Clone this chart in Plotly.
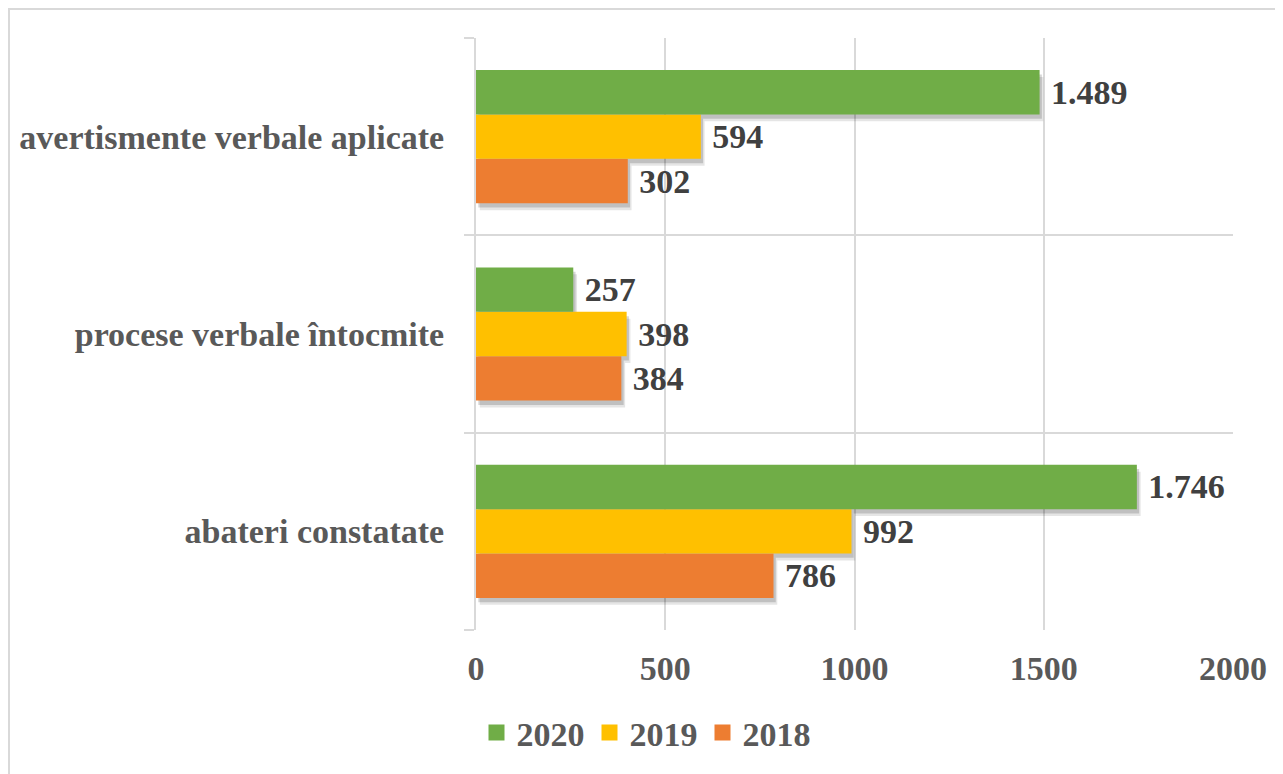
import plotly.graph_objects as go

categories = ["abateri constatate", "procese verbale întocmite", "avertismente verbale aplicate"]
years = ["2018", "2019", "2020"]
# bar lengths as drawn in the reference (the 2018 "302" bar is drawn at ~400)
values_2018 = [786, 384, 401]
values_2019 = [992, 398, 594]
values_2020 = [1746, 257, 1489]
# data labels as printed in the reference
labels_2018 = ["786", "384", "302"]
labels_2019 = ["992", "398", "594"]
labels_2020 = ["1.746", "257", "1.489"]
colors = {"2018": "#ED7D31", "2019": "#FFC000", "2020": "#70AD47"}

series = {"2018": values_2018, "2019": values_2019, "2020": values_2020}
labels = {"2018": labels_2018, "2019": labels_2019, "2020": labels_2020}

FONT = "Liberation Serif, Times New Roman, serif"
W, H = 1275, 766
L, R, T, B = 468, 50, 30, 144
PW, PH = W - L - R, H - T - B

BAR_W = 0.225
offsets = {"2018": -1.5 * BAR_W, "2019": -0.5 * BAR_W, "2020": 0.5 * BAR_W}

fig = go.Figure()
# soft drop shadows
for yr in years:
    for base, dy, alpha in [(10, -0.035, 0.10), (6, -0.022, 0.16)]:
        fig.add_trace(go.Bar(
            y=categories, x=series[yr], base=base, orientation="h",
            width=BAR_W, offset=offsets[yr] + dy,
            marker=dict(color=f"rgba(0,0,0,{alpha})", line=dict(width=0)),
            showlegend=False, hoverinfo="skip",
        ))
for yr in years:
    vals = series[yr]
    fig.add_trace(go.Bar(
        y=categories,
        x=vals,
        name=yr,
        orientation="h",
        width=BAR_W,
        offset=offsets[yr],
        marker=dict(color=colors[yr], line=dict(width=0)),
        text=["\u00a0" + t for t in labels[yr]],
        textposition="outside",
        constraintext="none",
        textfont=dict(family=FONT, size=34, color="#404040", weight="bold"),
        cliponaxis=False,
        showlegend=False,
    ))
# legend entries
for yr in ["2020", "2019", "2018"]:
    fig.add_trace(go.Scatter(
        x=[None], y=[None], mode="markers", name=yr,
        marker=dict(symbol="square", size=16, color=colors[yr]),
        showlegend=True,
    ))

fig.update_layout(
    width=W,
    height=H,
    barmode="overlay",
    plot_bgcolor="white",
    paper_bgcolor="white",
    margin=dict(l=L, r=R, t=T, b=B),
    font=dict(family=FONT, size=34, color="#595959", weight="bold"),
    showlegend=True,
    legend=dict(
        orientation="h",
        x=(638 - L) / PW, xanchor="center",
        y=(T + PH - 725) / PH, yanchor="middle",
        font=dict(family=FONT, size=34, color="#595959", weight="bold"),
        itemwidth=30,
        itemsizing="trace",
    ),
    xaxis=dict(
        range=[0, 2000],
        dtick=500,
        showgrid=True,
        gridcolor="#D9D9D9",
        gridwidth=2,
        zeroline=False,
        showline=False,
        ticks="",
        ticklabelstandoff=15,
        tickfont=dict(family=FONT, size=34, color="#595959", weight="bold"),
        fixedrange=True,
    ),
    yaxis=dict(
        type="category",
        categoryorder="array",
        categoryarray=categories,
        range=[-0.5, 2.5],
        tickson="boundaries",
        showgrid=True,
        gridcolor="#D9D9D9",
        gridwidth=2,
        ticks="outside",
        ticklen=10,
        tickwidth=2,
        tickcolor="#D9D9D9",
        showline=True,
        linecolor="#D9D9D9",
        linewidth=2,
        ticklabelstandoff=23,
        tickfont=dict(family=FONT, size=34, color="#595959", weight="bold"),
        fixedrange=True,
    ),
    shapes=[dict(
        type="rect", xref="paper", yref="paper",
        x0=(1 - L) / PW, x1=(W + 20 - L) / PW,
        y0=(T + PH - (H + 20)) / PH, y1=(T + PH - 1) / PH,
        line=dict(color="#D9D9D9", width=2),
        fillcolor="rgba(0,0,0,0)",
        layer="below",
    )],
)

fig.write_html("out.html")
